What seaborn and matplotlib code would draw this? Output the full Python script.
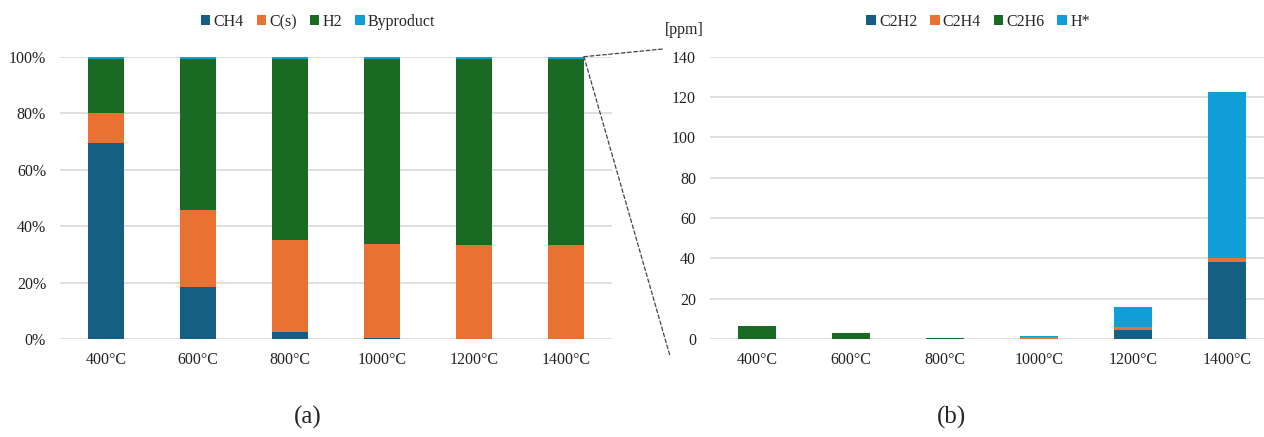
import numpy as np
import pandas as pd
import matplotlib
matplotlib.use("Agg")
import matplotlib.pyplot as plt
from matplotlib.patches import Patch, ConnectionPatch
from matplotlib.ticker import PercentFormatter
import seaborn as sns

# ---- data ----
temps = ["400°C", "600°C", "800°C", "1000°C", "1200°C", "1400°C"]

# (a) composition [%]
ch4 = [69.6, 18.3, 2.5, 0.4, 0.0, 0.0]
cs = [10.3, 27.3, 32.6, 33.3, 33.3, 33.3]
h2 = [19.2, 53.5, 64.0, 65.4, 65.8, 65.8]
byproduct = [0.9, 0.9, 0.9, 0.9, 0.9, 0.9]
series_a = ["CH4", "C(s)", "H2", "Byproduct"]

# (b) byproducts [ppm]
c2h2 = [0.0, 0.0, 0.0, 0.0, 4.3, 38.0]
c2h4 = [0.0, 0.0, 0.0, 0.9, 1.7, 2.4]
c2h6 = [6.3, 3.0, 0.7, 0.0, 0.0, 0.0]
hstar = [0.0, 0.0, 0.0, 0.6, 9.9, 82.0]
series_b = ["C2H2", "C2H4", "C2H6", "H*"]

colors = ["#156082", "#E97132", "#196B24", "#0F9ED5"]

sns.set_theme(style="white")
plt.rcParams["font.family"] = ["Liberation Serif", "DejaVu Serif"]
plt.rcParams["font.size"] = 11.5

FS = 11.5
fig = plt.figure(figsize=(12.64, 4.37), dpi=100)
W, H = 1264, 437
ax1 = fig.add_axes([60 / W, (H - 339) / H, 552 / W, 282.3 / H])
ax2 = fig.add_axes([710 / W, (H - 339) / H, 564 / W, 282.3 / H])


def stacked(ax, cats, names, arrays, width):
    df = pd.DataFrame({n: a for n, a in zip(names, arrays)})
    df["cat"] = cats
    cum = df[names].cumsum(axis=1)
    # draw from top (total) downwards so each layer covers the one above
    for name, col in reversed(list(zip(names, colors))):
        sns.barplot(x=df["cat"], y=cum[name], color=col, width=width,
                    saturation=1, ax=ax, edgecolor="none", linewidth=0,
                    order=cats)


stacked(ax1, temps, series_a, [np.array(ch4) / 100, np.array(cs) / 100,
                               np.array(h2) / 100, np.array(byproduct) / 100], 0.39)
stacked(ax2, temps, series_b, [c2h2, c2h4, c2h6, hstar], 0.40)

for ax in (ax1, ax2):
    ax.set_xlabel("")
    ax.set_ylabel("")
    ax.set_xlim(-0.5, 5.5)
    for s in ax.spines.values():
        s.set_visible(False)
    ax.grid(axis="y", color="#D9D9D9", linewidth=1.2)
    ax.set_axisbelow(True)
    ax.tick_params(axis="both", length=0, labelsize=FS, colors="#222222")
    ax.tick_params(axis="x", pad=9)
    ax.tick_params(axis="y", pad=10)

ax1.set_ylim(0, 1.0)
ax1.set_yticks(np.arange(0, 1.01, 0.2))
ax1.yaxis.set_major_formatter(PercentFormatter(1.0, decimals=0))
ax2.set_ylim(0, 140)
ax2.set_yticks(np.arange(0, 141, 20))

# legends
h_a = [Patch(facecolor=c, edgecolor="none") for c in colors]
fig.legend(h_a, series_a, loc="center", bbox_to_anchor=(318 / W, 1 - 22 / H),
           ncol=4, frameon=False, fontsize=FS, handlelength=0.6, handleheight=0.6,
           handletextpad=0.2, columnspacing=0.8)
fig.legend(h_a, series_b, loc="center", bbox_to_anchor=(978 / W, 1 - 22 / H),
           ncol=4, frameon=False, fontsize=FS, handlelength=0.6, handleheight=0.6,
           handletextpad=0.2, columnspacing=0.8)

fig.text(684 / W, 1 - 30 / H, "[ppm]", ha="center", va="center", fontsize=FS,
         color="#222222")

# panel labels
fig.text(308 / W, 1 - 417 / H, "(a)", ha="center", va="center", fontsize=18)
fig.text(952 / W, 1 - 417 / H, "(b)", ha="center", va="center", fontsize=18)

# zoom connector lines
top = sum(v[-1] for v in (ch4, cs, h2, byproduct)) / 100
for end in [(663, 49), (670, 356)]:
    cp = ConnectionPatch(xyA=(5 + 0.195, top), coordsA=ax1.transData,
                         xyB=(end[0] / W, 1 - end[1] / H), coordsB=fig.transFigure,
                         linestyle=(0, (3, 2)), color="#444444", linewidth=0.9)
    fig.add_artist(cp)

fig.savefig("out.png", dpi=100)
